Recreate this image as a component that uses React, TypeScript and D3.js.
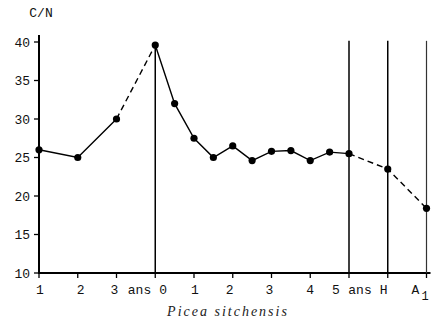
import React from "react";
import * as d3 from "d3";

// Sampling positions along the time axis (tick units) and C/N values
const samplePos = [0, 1, 2, 3, 3.5, 4, 4.5, 5, 5.5, 6, 6.5, 7, 7.5, 8, 9, 10];
const cnValues = [26, 25, 30, 39.6, 32, 27.5, 25, 26.5, 24.6, 25.8, 25.9, 24.6, 25.7, 25.5, 23.5, 18.4];
// segments: [startIndex, endIndex, dashed]
const segments: [number, number, boolean][] = [
  [0, 2, false],
  [2, 3, true],
  [3, 13, false],
  [13, 15, true],
];
const xTickLabels = ["1", "2", "3", "0", "1", "2", "3", "4", "5", "H", "A"];
const yTicks = [10, 15, 20, 25, 30, 35, 40];
const dividerTicks = [8, 9, 10]; // "5 ans", H, A1
const title = "Picea sitchensis";
const yLabel = "C/N";

const W = 434;
const H = 329;

export default function App() {
  const x = d3.scaleLinear().domain([0, 10]).range([39, 426.5]);
  const y = d3.scaleLinear().domain([10, 40]).range([273, 42]);
  const line = d3
    .line<number>()
    .x((i) => x(samplePos[i]))
    .y((i) => y(cnValues[i]));

  const labelDx = [1, 3, -2, 8, 1, -3, -2, 0, -13, -4, -11];
  const font = "'Liberation Mono', 'DejaVu Sans Mono', monospace";

  return (
    <svg
      width={W}
      height={H}
      style={{ position: "absolute", left: 0, top: 0, background: "#fff" }}
    >
      {/* y axis */}
      <line x1={x(0)} x2={x(0)} y1={y(40.9)} y2={y(10) + 1} stroke="#000" strokeWidth={2} />
      {/* x axis */}
      <line x1={x(0) - 1} x2={x(10) + 4} y1={y(10)} y2={y(10)} stroke="#000" strokeWidth={2} />
      {yTicks.map((t) => (
        <g key={t}>
          <line x1={x(0) - 5} x2={x(0)} y1={y(t)} y2={y(t)} stroke="#000" strokeWidth={1.3} />
          <text
            x={x(0) - 9}
            y={y(t)}
            dy="0.35em"
            textAnchor="end"
            fontFamily={font}
            fontSize={13}
            fill="#111"
          >
            {t}
          </text>
        </g>
      ))}
      {xTickLabels.map((lab, i) => (
        <g key={i}>
          <line x1={x(i)} x2={x(i)} y1={y(10)} y2={y(10) + 5} stroke="#000" strokeWidth={1.3} />
          <text
            x={x(i) + labelDx[i]}
            y={294}
            textAnchor="middle"
            fontFamily={font}
            fontSize={13}
            fill="#111"
          >
            {lab}
          </text>
          {lab === "A" && (
            <text x={x(i) + labelDx[i] + 6} y={300} fontFamily={font} fontSize={12} fill="#111">
              1
            </text>
          )}
        </g>
      ))}
      {/* "ans" labels */}
      {[2, 8].map((i) => (
        <text
          key={"ans" + i}
          x={x(i) + (i === 2 ? 23 : 11)}
          y={294}
          textAnchor="middle"
          fontFamily={font}
          fontSize={13}
          fill="#111"
        >
          ans
        </text>
      ))}
      {/* vertical divider lines */}
      <line x1={x(3)} x2={x(3)} y1={y(cnValues[3])} y2={y(10)} stroke="#000" strokeWidth={1.5} />
      {dividerTicks.map((t) => (
        <line
          key={t}
          x1={x(t)}
          x2={x(t)}
          y1={y(40.15)}
          y2={y(10)}
          stroke={t === 10 ? "#333" : "#000"}
          strokeWidth={t === 10 ? 1.2 : 1.5}
        />
      ))}
      {/* data line */}
      {segments.map(([a, b, dashed], k) => (
        <path
          key={k}
          d={line(d3.range(a, b + 1)) || ""}
          fill="none"
          stroke="#000"
          strokeWidth={1.4}
          strokeDasharray={dashed ? "6,4" : undefined}
        />
      ))}
      {samplePos.map((p, i) => (
        <circle key={i} cx={x(p)} cy={y(cnValues[i])} r={3.6} fill="#000" />
      ))}
      {/* labels */}
      <text x={41} y={17} textAnchor="middle" fontFamily={font} fontSize={13} fill="#111">
        {yLabel}
      </text>
      <text
        x={228}
        y={316}
        textAnchor="middle"
        fontFamily="'Liberation Serif', serif"
        fontStyle="italic"
        fontSize={14}
        letterSpacing={2}
        fill="#222"
      >
        {title}
      </text>
    </svg>
  );
}
